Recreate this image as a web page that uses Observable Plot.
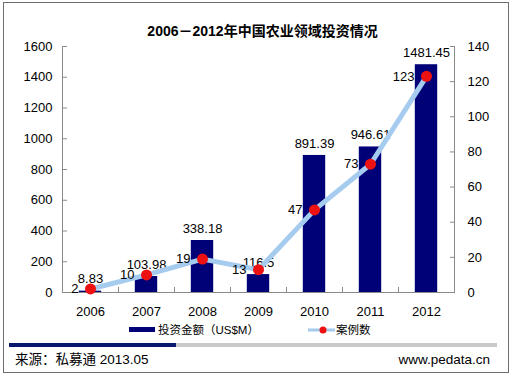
<!DOCTYPE html>
<html><head><meta charset="utf-8">
<script src="https://cdn.jsdelivr.net/npm/d3@7"></script>
<script src="https://cdn.jsdelivr.net/npm/@observablehq/plot@0.6"></script>
<style>
body{margin:0;background:#fff;font-family:"Liberation Sans",Arial,"Noto Sans CJK SC",sans-serif;}
#wrap{position:relative;width:515px;height:377px;overflow:hidden;}
#frame{position:absolute;left:3px;top:2px;width:504px;height:369px;border:1px solid #6e6e6e;}
#title{position:absolute;left:0;width:525px;top:20px;text-align:center;font-weight:bold;font-size:14px;color:#000;white-space:nowrap;}
#chart{position:absolute;left:0;top:30px;}
#legend{position:absolute;top:321px;left:0;height:18px;width:515px;font-size:11.5px;color:#000;}
.lg{position:absolute;top:0;height:18px;line-height:18px;white-space:nowrap;}
#fbar1{position:absolute;left:9px;top:343px;width:167px;height:4px;background:#0b1870;}
#fbar2{position:absolute;left:176px;top:343px;width:321px;height:4px;background:#c9c9c9;}
.ft{position:absolute;top:351px;font-size:13.5px;line-height:18px;color:#000;white-space:nowrap;}
</style></head>
<body>
<div id="wrap">
  <div id="frame"></div>
  <div id="title">2006－2012年中国农业领域投资情况</div>
  <div id="chart"></div>
  <div id="legend"></div>
  <div id="fbar1"></div><div id="fbar2"></div>
  <div class="ft" style="left:15px">来源：私募通 2013.05</div>
  <div class="ft" style="right:25px">www.pedata.cn</div>
</div>
<script>
const years = [2006, 2007, 2008, 2009, 2010, 2011, 2012];
const amounts = [8.83, 103.98, 338.18, 116.5, 891.39, 946.61, 1481.45];
const counts = [2, 10, 19, 13, 47, 73, 123];
const leftTicks = [0, 200, 400, 600, 800, 1000, 1200, 1400, 1600];
const rightTicks = [0, 20, 40, 60, 80, 100, 120, 140];
const seriesNames = ["投资金额（US$M）", "案例数"];

const k = 1600 / 140;
const data = years.map((year, i) => ({year, amount: amounts[i], count: counts[i]}));
const bounds = years.slice(1).map(y => y - 0.5);

const BAR = "#000077", LINE = "#a5cbee", DOT = "#ee1111", AX = "#8a8a8a";

const chart = Plot.plot({
  width: 515, height: 288,
  marginTop: 16, marginBottom: 26, marginLeft: 62, marginRight: 61,
  style: {fontSize: "13px", fontFamily: '"Liberation Sans", Arial, sans-serif', color: "#000", background: "transparent"},
  x: {domain: [years[0] - 0.5, years[years.length - 1] + 0.5], label: null},
  y: {domain: [0, 1600], label: null},
  marks: [
    Plot.rectY(data, {x1: d => d.year - 0.2, x2: d => d.year + 0.2, y: "amount", fill: BAR}),
    Plot.ruleY([0], {stroke: AX}),
    Plot.ruleX([years[0] - 0.5, years[years.length - 1] + 0.5], {stroke: AX}),
    Plot.axisY({ticks: leftTicks, tickSize: -5, tickPadding: 15, stroke: AX, label: null, tickFormat: d => String(d)}),
    Plot.axisY({anchor: "right", ticks: rightTicks.map(v => v * k), tickSize: -5, tickPadding: 18, stroke: AX, label: null, tickFormat: v => String(Math.round(v / k))}),
    Plot.axisX({ticks: years, tickSize: 0, tickPadding: 14, label: null, tickFormat: d => String(d)}),
    Plot.axisX({ticks: bounds, tickSize: -5, tickPadding: 0, stroke: AX, label: null, tickFormat: () => ""}),
    Plot.text(data, {x: "year", y: "amount", text: d => String(d.amount), dy: -12, fill: "#000"}),
    Plot.line(data, {x: "year", y: d => d.count * k, stroke: LINE, strokeWidth: 5}),
    Plot.dot(data, {x: "year", y: d => d.count * k, r: 5.5, fill: DOT}),
    Plot.text(data, {x: "year", y: d => d.count * k, text: d => String(d.count), textAnchor: "end", dx: -12, dy: 0, fill: "#000"})
  ]
});
document.getElementById("chart").appendChild(chart);

const lg = document.getElementById("legend");
lg.innerHTML =
  `<div class="lg" style="left:129px"><span style="display:inline-block;width:26px;height:5px;background:${BAR};vertical-align:middle;margin-right:3px;position:relative;top:-1px"></span>${seriesNames[0]}</div>` +
  `<div class="lg" style="left:308px"><svg width="28" height="10" style="vertical-align:middle;position:relative;top:-1px"><line x1="0" y1="5" x2="27" y2="5" stroke="${LINE}" stroke-width="3"/><circle cx="15" cy="5" r="3.5" fill="${DOT}"/></svg>${seriesNames[1]}</div>`;
</script>
</body></html>
